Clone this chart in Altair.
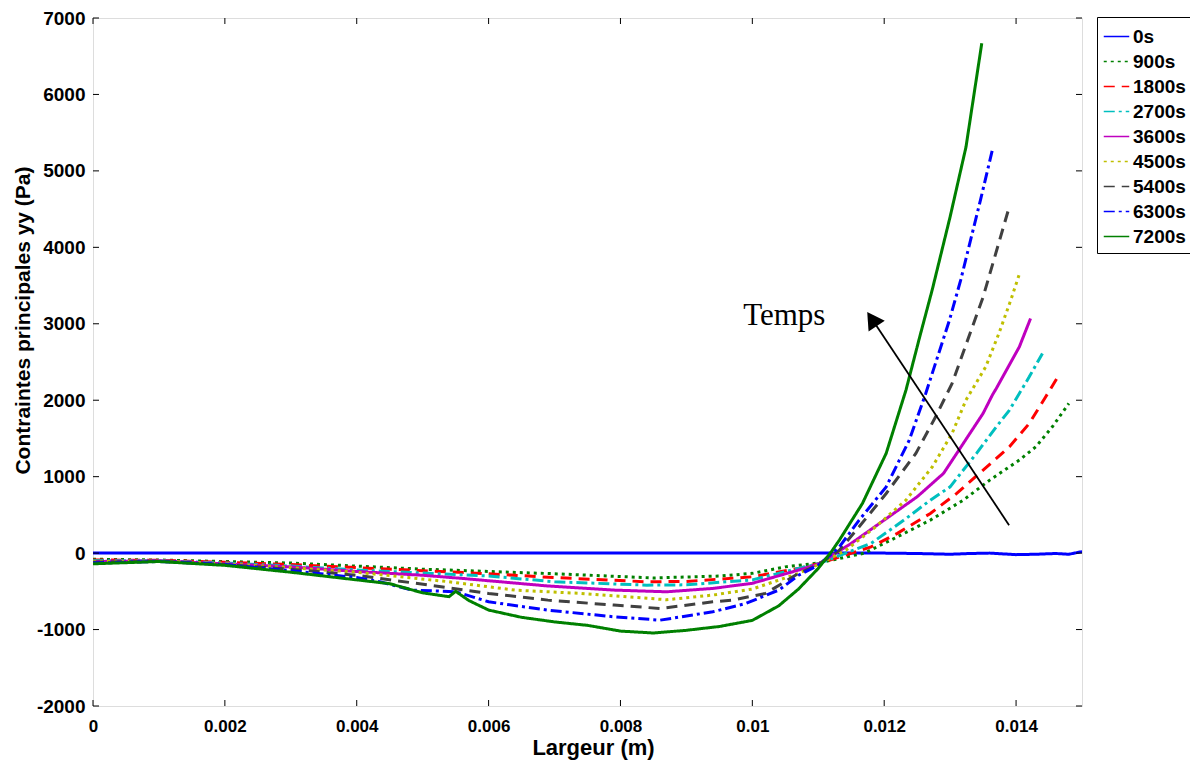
import altair as alt
import pandas as pd

# ---------------- data ----------------
series_names = ["0s", "900s", "1800s", "2700s", "3600s", "4500s", "5400s", "6300s", "7200s"]
series_colors = ["#0000ff", "#008000", "#ff0000", "#00bfbf", "#bf00bf", "#bfbf00", "#404040", "#0000ff", "#008000"]
series_dashes = [[1, 0], [3, 4], [11, 7], [11, 4, 3, 4], [1, 0], [3, 4], [11, 7], [11, 4, 3, 4], [1, 0]]

x_0s = [0, 0.002, 0.004, 0.006, 0.008, 0.010, 0.012, 0.0125, 0.0130, 0.0133, 0.0136, 0.0140, 0.0143, 0.0146, 0.0148, 0.0150]
y_0s = [0, 0, 0, 0, 0, 0, 0, -5, -15, -5, 0, -20, -15, -5, -15, 20]

x_900 = [0, 0.001, 0.002, 0.003, 0.004, 0.005, 0.006, 0.007, 0.0085, 0.0095, 0.0100, 0.0105, 0.0110, 0.0117,
         0.0122, 0.0127, 0.0132, 0.0136, 0.01405, 0.0143, 0.01455, 0.0148]
y_900 = [-80, -90, -110, -130, -170, -210, -240, -270, -325, -300, -265, -180, -130, 0,
         213, 432, 693, 955, 1217, 1391, 1652, 1958]

x_1800 = [0, 0.001, 0.002, 0.003, 0.004, 0.005, 0.006, 0.007, 0.0084, 0.0090, 0.0100, 0.0107, 0.0110, 0.0118,
          0.0122, 0.0127, 0.0131, 0.0135, 0.0139, 0.0142, 0.01445, 0.01465]
y_1800 = [-90, -95, -120, -150, -190, -230, -270, -320, -375, -370, -310, -200, -140, 82,
          258, 519, 781, 1086, 1391, 1696, 2045, 2329]

x_2700 = [0, 0.001, 0.002, 0.003, 0.004, 0.005, 0.006, 0.007, 0.0084, 0.0090, 0.0100, 0.0107, 0.0110, 0.0118,
          0.0123, 0.0127, 0.0130, 0.0134, 0.0137, 0.0139, 0.0142, 0.0144]
y_2700 = [-100, -100, -130, -170, -220, -260, -300, -375, -419, -415, -350, -200, -140, 127,
          432, 693, 867, 1305, 1652, 1871, 2306, 2612]

x_3600 = [0, 0.001, 0.002, 0.003, 0.004, 0.005, 0.0056, 0.0069, 0.0079, 0.0087, 0.0094, 0.0100, 0.0107, 0.0110,
          0.0115, 0.0120, 0.0125, 0.0129, 0.0132, 0.0135, 0.01364, 0.0137, 0.01405, 0.01422]
y_3600 = [-110, -100, -140, -180, -240, -290, -331, -430, -484, -506, -462, -395, -222, -145,
          127, 432, 737, 1043, 1435, 1828, 2067, 2154, 2699, 3070]

x_4500 = [0, 0.001, 0.002, 0.003, 0.004, 0.0054, 0.0064, 0.0074, 0.0087, 0.0094, 0.0100, 0.0107, 0.0110,
          0.01142, 0.01187, 0.01233, 0.01273, 0.01303, 0.01324, 0.01354, 0.01374, 0.01392, 0.01405]
y_4500 = [-110, -105, -140, -190, -250, -375, -484, -527, -610, -549, -470, -266, -150,
          39, 344, 693, 1129, 1566, 2002, 2437, 2874, 3310, 3650]

x_5400 = [0, 0.001, 0.002, 0.003, 0.004, 0.0051, 0.0060, 0.0069, 0.0079, 0.0086, 0.0094, 0.0097, 0.0102,
          0.01045, 0.0107, 0.0110, 0.01132, 0.01162, 0.01203, 0.01248, 0.01278, 0.01303, 0.0135, 0.01389]
y_5400 = [-120, -105, -150, -210, -290, -419, -527, -615, -680, -724, -637, -615, -527,
          -397, -266, -150, 39, 344, 780, 1305, 1783, 2220, 3350, 4509]

x_6300 = [0, 0.001, 0.002, 0.003, 0.004, 0.00435, 0.00485, 0.0055, 0.0060, 0.0069, 0.0079, 0.0086, 0.0094,
          0.0099, 0.01041, 0.0107, 0.0110, 0.01132, 0.01162, 0.01203, 0.01238, 0.01263, 0.01299, 0.01316,
          0.01346, 0.01364]
y_6300 = [-130, -110, -150, -230, -320, -375, -485, -505, -637, -746, -833, -877, -768,
          -659, -480, -290, -160, 82, 432, 867, 1478, 2089, 3048, 3571,
          4618, 5272]

x_7200 = [0, 0.001, 0.002, 0.003, 0.004, 0.0045, 0.0050, 0.0054, 0.0055, 0.0057, 0.0060, 0.0065, 0.0070,
          0.0075, 0.0078, 0.0080, 0.0085, 0.0090, 0.0095, 0.0100, 0.0104, 0.0107, 0.0110, 0.0112,
          0.01132, 0.01167, 0.01203, 0.01233, 0.01253, 0.01273, 0.01300, 0.01324, 0.01348]
y_7200 = [-140, -110, -160, -250, -350, -400, -520, -570, -500, -620, -745, -840, -900,
          -945, -990, -1020, -1045, -1010, -960, -880, -690, -470, -200, 20,
          170, 650, 1305, 2132, 2800, 3450, 4400, 5310, 6670]

series_x = [x_0s, x_900, x_1800, x_2700, x_3600, x_4500, x_5400, x_6300, x_7200]
series_y = [y_0s, y_900, y_1800, y_2700, y_3600, y_4500, y_5400, y_6300, y_7200]

x_ticks = [0, 0.002, 0.004, 0.006, 0.008, 0.01, 0.012, 0.014]
y_ticks = [-2000, -1000, 0, 1000, 2000, 3000, 4000, 5000, 6000, 7000]

# annotation (arrow "Temps")
arrow_x = [0.013894, 0.011814]
arrow_y = [366, 3061]
head_x = [0.011814]
head_y = [3061]
label_x = [0.010485]
label_y = [3100]
label_text = ["Temps"]

# ---------------- build table ----------------
rows = []
for name, xs, ys in zip(series_names, series_x, series_y):
    for i, (xv, yv) in enumerate(zip(xs, ys)):
        rows.append({"t": name, "x": xv, "y": yv, "i": i})
df = pd.DataFrame(rows)

W, H = 989, 688
xscale = alt.Scale(domain=[0, 0.015], nice=False, zero=False)
yscale = alt.Scale(domain=[-2000, 7000], nice=False, zero=False)

legend = alt.Legend(
    title=None, orient="none", legendX=1004, legendY=-1,
    strokeColor="black", fillColor="white", padding=6, cornerRadius=0,
    labelFont="Liberation Sans", labelFontWeight="bold", labelFontSize=19, labelColor="black",
    symbolType="stroke", symbolSize=650, symbolStrokeWidth=1.5, rowPadding=1, labelOffset=3,
)

lines = alt.Chart(df).mark_line(strokeWidth=3, clip=True).encode(
    x=alt.X("x:Q", scale=xscale, axis=alt.Axis(
        values=x_ticks, labelExpr="'' + datum.value", title="Largeur (m)",
        labelFont="Liberation Sans", labelFontWeight="bold", labelFontSize=17, labelColor="black",
        titleFont="Liberation Sans", titleFontWeight="bold", titleFontSize=22, titleColor="black",
        titleX=500, titleY=31, titleBaseline="top", titleAlign="center",
        labelPadding=12, labelFlush=False, ticks=False, tickSize=0, domain=False, grid=False)),
    y=alt.Y("y:Q", scale=yscale, axis=alt.Axis(
        values=y_ticks, labelExpr="'' + datum.value", title="Contraintes principales yy (Pa)",
        labelFont="Liberation Sans", labelFontWeight="bold", labelFontSize=19, labelColor="black",
        titleFont="Liberation Sans", titleFontWeight="bold", titleFontSize=21, titleColor="black",
        titleX=-60, titleY=302, titleAngle=270, titleBaseline="bottom", titleAlign="center",
        labelPadding=8, labelFlush=False, ticks=False, tickSize=0, domain=False, grid=False)),
    color=alt.Color("t:N", scale=alt.Scale(domain=series_names, range=series_colors), legend=legend),
    strokeDash=alt.StrokeDash("t:N", scale=alt.Scale(domain=series_names, range=series_dashes), legend=legend),
    order=alt.Order("i:Q"),
)

xt = pd.DataFrame({"x": x_ticks})
yt = pd.DataFrame({"y": y_ticks})
tick_top = alt.Chart(xt).mark_rule(color="black", strokeWidth=1).encode(
    x=alt.X("x:Q", scale=xscale), y=alt.value(0), y2=alt.value(6))
tick_bot = alt.Chart(xt).mark_rule(color="black", strokeWidth=1).encode(
    x=alt.X("x:Q", scale=xscale), y=alt.value(H), y2=alt.value(H - 6))
tick_left = alt.Chart(yt).mark_rule(color="black", strokeWidth=1).encode(
    y=alt.Y("y:Q", scale=yscale), x=alt.value(0), x2=alt.value(6))
tick_right = alt.Chart(yt).mark_rule(color="black", strokeWidth=1).encode(
    y=alt.Y("y:Q", scale=yscale), x=alt.value(W), x2=alt.value(W - 6))

arrow_df = pd.DataFrame({"x": arrow_x, "y": arrow_y})
shaft = alt.Chart(arrow_df).mark_line(color="black", strokeWidth=1.8).encode(
    x=alt.X("x:Q", scale=xscale), y=alt.Y("y:Q", scale=yscale))
head = alt.Chart(pd.DataFrame({"x": head_x, "y": head_y})).mark_point(
    shape="triangle-up", filled=True, color="black", size=380, angle=326, opacity=1).encode(
    x=alt.X("x:Q", scale=xscale), y=alt.Y("y:Q", scale=yscale))
label = alt.Chart(pd.DataFrame({"x": label_x, "y": label_y, "s": label_text})).mark_text(
    font="Liberation Serif", fontSize=31, color="black", align="center", baseline="middle").encode(
    x=alt.X("x:Q", scale=xscale), y=alt.Y("y:Q", scale=yscale), text="s:N")

chart = alt.layer(lines, tick_top, tick_bot, tick_left, tick_right, shaft, head, label).properties(
    width=W, height=H,
    autosize=alt.AutoSizeParams(type="none"),
    padding={"left": 85, "top": 10, "right": 108, "bottom": 57},
).configure_view(stroke="black", strokeWidth=1).configure(background="white")

chart.save("out.html", embed_options={"renderer": "svg", "actions": False})
